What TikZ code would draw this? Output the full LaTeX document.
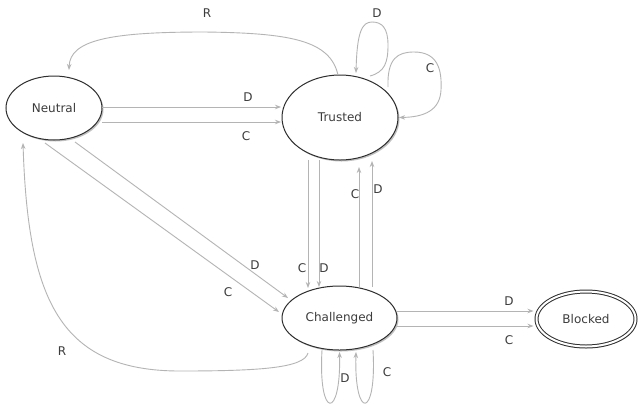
\documentclass[tikz,border=0pt]{standalone}
\usepackage{fontspec}
\setmainfont{DejaVu Sans}
\usetikzlibrary{shapes.geometric,shadows,arrows.meta}
\definecolor{edgegray}{HTML}{B4B4B4}
\definecolor{bordergray}{HTML}{2E2E2E}
\definecolor{textgray}{HTML}{3C3C3C}
\begin{document}
\begin{tikzpicture}[x=1pt,y=-1pt,font=\fontsize{12}{14}\selectfont,
  stnode/.style={ellipse, draw=bordergray, line width=1pt, fill=white, inner sep=0pt, outer sep=0pt, text=textgray,
    drop shadow={shadow xshift=1.5pt, shadow yshift=-1.5pt, fill=black!40, opacity=0.6}},
  conn/.style={draw=edgegray, line width=0.9pt, -{Stealth[length=6pt,width=4.5pt]}},
  lbl/.style={text=textgray, inner sep=0pt}]
\useasboundingbox (0,0) rectangle (639,405);
\fill[white] (0,0) rectangle (639,405);

% states
\node[stnode, minimum width=96pt, minimum height=64pt] (N) at (54,108) {Neutral};
\node[stnode, minimum width=116pt, minimum height=85pt] (T) at (340,117.5) {Trusted};
\node[stnode, minimum width=115pt, minimum height=64pt] (Ch) at (339.5,318) {Challenged};
\node[stnode, double=white, double distance=2pt, minimum width=99pt, minimum height=55pt] (B) at (586,319) {Blocked};

% Neutral -> Trusted
\draw[conn] ([yshift=1pt]N.east) -- ([xshift=-1pt,yshift=10.5pt]T.west);
\draw[conn] ([yshift=-14pt]N.east) -- ([xshift=-1pt,yshift=-4.5pt]T.west);

% Trusted -> Challenged
\draw[conn] ([xshift=-32pt]T.south) -- ([xshift=-31.5pt,yshift=-2pt]Ch.north);
\draw[conn] ([xshift=-21pt]T.south) -- ([xshift=-20.5pt,yshift=-1pt]Ch.north);

% Challenged -> Trusted
\draw[conn] ([xshift=19.5pt,yshift=-1pt]Ch.north) -- ([xshift=19pt,yshift=-7pt]T.south);
\draw[conn] ([xshift=32.5pt,yshift=-1pt]Ch.north) -- ([xshift=32pt,yshift=-1pt]T.south);

% Neutral -> Challenged
\draw[conn] ([xshift=21pt,yshift=-2pt]N.south) -- ([xshift=6pt,yshift=20pt]Ch.west);
\draw[conn] ([xshift=-9pt,yshift=-3pt]N.south) -- ([xshift=-3pt,yshift=6pt]Ch.west);

% Challenged -> Blocked
\draw[conn] ([yshift=7pt]Ch.east) -- ([xshift=-3pt,yshift=8pt]B.west);
\draw[conn] ([yshift=-8pt]Ch.east) -- ([xshift=-3pt,yshift=-7pt]B.west);

% Trusted -> Neutral (R)
\draw[conn] ([xshift=-2pt]T.north) .. controls (330,40) and (290,33) .. (204,32)
  .. controls (110,32) and (70,40) .. ([xshift=15pt,yshift=6pt]N.north);

% Challenged -> Neutral (R)
\draw[conn] ([xshift=-31.5pt,yshift=-3pt]Ch.south) .. controls (304,368) and (260,371) .. (180,371)
  .. controls (60,371) and (28,300) .. ([xshift=-31pt,yshift=-3pt]N.south);

% Trusted self loops
\draw[conn] ([xshift=30pt,yshift=-1pt]T.north) .. controls (385,72) and (388,62) .. (388,45)
  .. controls (388,28) and (382,22) .. (372,22)
  .. controls (362,22) and (357,32) .. ([xshift=16pt,yshift=2pt]T.north);
\draw[conn] ([xshift=48pt,yshift=-12pt]T.north) .. controls (387,58) and (398,52) .. (414,52)
  .. controls (438,52) and (442,70) .. (441,90)
  .. controls (440,110) and (425,117) .. ([xshift=1pt]T.east);

% Challenged self loops
\draw[conn] ([xshift=-17.5pt]Ch.south) .. controls (318,420) and (341,420) .. ([yshift=-2pt]Ch.south);
\draw[conn] ([xshift=33.5pt]Ch.south) .. controls (377,420) and (354,420) .. ([xshift=16.5pt,yshift=-2pt]Ch.south);

% labels
\node[lbl] (lNTd) at (248,97) {D};
\node[lbl] (lNTc) at (246,136) {C};
\node[lbl] (lTNr) at (207,13) {R};
\node[lbl] (lTTd) at (377,13) {D};
\node[lbl] (lTTc) at (430,68) {C};
\node[lbl] (lTCc) at (302,268) {C};
\node[lbl] (lTCd) at (324,268) {D};
\node[lbl] (lCTc) at (355,194) {C};
\node[lbl] (lCTd) at (378,189) {D};
\node[lbl] (lNCd) at (255,265) {D};
\node[lbl] (lNCc) at (228,292) {C};
\node[lbl] (lCNr) at (62,351) {R};
\node[lbl] (lCBd) at (509,301) {D};
\node[lbl] (lCBc) at (509,340) {C};
\node[lbl] (lCCd) at (345,378) {D};
\node[lbl] (lCCc) at (387,372) {C};
\end{tikzpicture}
\end{document}
